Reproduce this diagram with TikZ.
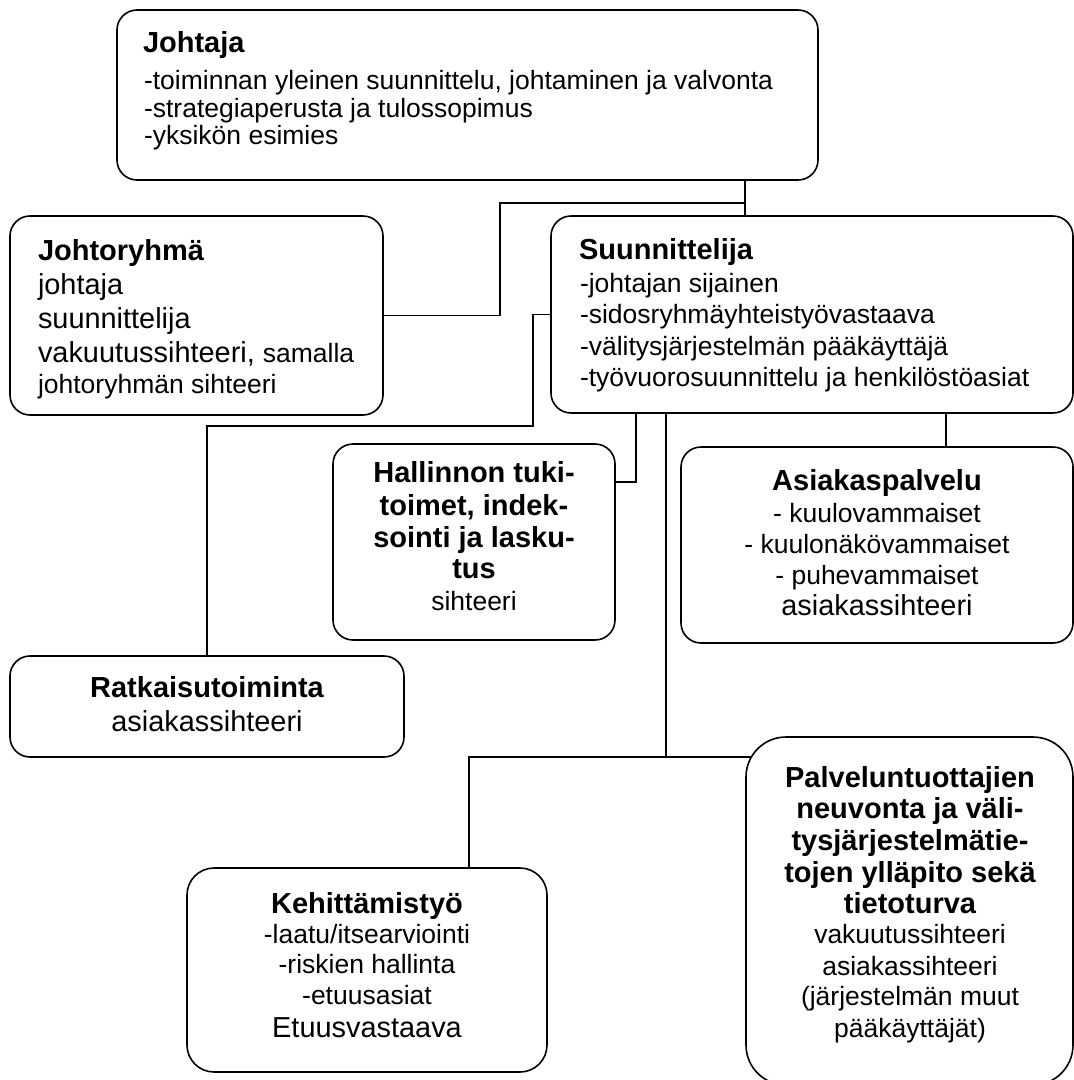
\documentclass[tikz,border=0pt]{standalone}
\usepackage{fontspec}
\setmainfont{Liberation Sans}
\begin{document}
\begin{tikzpicture}[x=1pt,y=-1pt,
  box/.style={draw, line width=1.6pt, rounded corners=20pt, inner sep=0pt, outer sep=0pt},
  conn/.style={line width=1.5pt},
  ttl/.style={font=\fontsize{29}{29}\selectfont\bfseries, inner sep=0pt, outer sep=0pt},
  sm/.style={font=\fontsize{26.5}{26.5}\selectfont, inner sep=0pt, outer sep=0pt},
  lg/.style={font=\fontsize{28.9}{28.9}\selectfont, inner sep=0pt, outer sep=0pt}]
\useasboundingbox (0,0) rectangle (1074,1080);
\clip (0,0) rectangle (1074,1080);

% boxes
\node[box, minimum width=701pt, minimum height=170pt] (johtaja) at (467.5,95) {};
\node[box, minimum width=373pt, minimum height=199pt] (johtor) at (196.5,315.5) {};
\node[box, minimum width=522pt, minimum height=197pt] (suun) at (812,314.5) {};
\node[box, minimum width=282pt, minimum height=196pt] (hall) at (474,542) {};
\node[box, minimum width=392pt, minimum height=196pt] (asiak) at (877,545) {};
\node[box, minimum width=394pt, minimum height=101pt] (ratk) at (207,706.5) {};
\node[box, rounded corners=27pt, minimum width=360pt, minimum height=204pt] (kehit) at (367,970) {};
\node[box, rounded corners=40pt, minimum width=327pt, minimum height=348pt] (palv) at (909.5,911) {};

% connector junctions
\coordinate (c1) at (745,203);
\coordinate (c2) at (500,203);
\coordinate (c3) at (533,426);
\coordinate (c4) at (636,482);
\coordinate (c5) at (666,757);
\coordinate (c6) at (469,757);
\coordinate (c7) at (752,757);
\coordinate (c8) at (946,430);

\draw[conn] (johtaja.south -| c1) -- (suun.north -| c1);
\draw[conn] (johtor.east) -| (c2) -- (c1);
\draw[conn] (suun.west) -| (c3) -| (ratk.north);
\draw[conn] (c4 -| hall.east) -- (c4) -- (c4 |- suun.south);
\draw[conn] (c5 |- suun.south) -- (c5);
\draw[conn] (c6 |- kehit.north) -- (c6) -- (c7);
\draw[conn] (c8 |- suun.south) -- (c8 |- asiak.north);

% Johtaja
\node[ttl, anchor=base west] (j0) at (143,52) {Johtaja};
\node[sm, anchor=base west] (j1) at (144,89) {-toiminnan yleinen suunnittelu, johtaminen ja valvonta};
\node[sm, anchor=base west] (j2) at (144,117) {-strategiaperusta ja tulossopimus};
\node[sm, anchor=base west] (j3) at (144,144) {-yksikön esimies};

% Johtoryhma
\node[ttl, anchor=base west] (r0) at (38,260) {Johtoryhmä};
\node[lg, anchor=base west] (r1) at (38,294) {johtaja};
\node[lg, anchor=base west] (r2) at (38,328) {suunnittelija};
\node[lg, anchor=base west] (r3) at (38,362) {vakuutussihteeri, {\fontsize{26.5}{26.5}\selectfont samalla}};
\node[sm, anchor=base west] (r4) at (38,393) {johtoryhmän sihteeri};

% Suunnittelija
\node[ttl, anchor=base west] (s0) at (579,259) {Suunnittelija};
\node[sm, anchor=base west] (s1) at (580,292) {-johtajan sijainen};
\node[sm, anchor=base west] (s2) at (580,323) {-sidosryhmäyhteistyövastaava};
\node[sm, anchor=base west] (s3) at (580,355) {-välitysjärjestelmän pääkäyttäjä};
\node[sm, anchor=base west] (s4) at (580,386) {-työvuorosuunnittelu ja henkilöstöasiat};

% Hallinnon
\node[ttl, anchor=base] (h0) at (474,482) {Hallinnon tuki-};
\node[ttl, anchor=base] (h1) at (474,515) {toimet, indek-};
\node[ttl, anchor=base] (h2) at (474,547) {sointi ja lasku-};
\node[ttl, anchor=base] (h3) at (474,578) {tus};
\node[sm, anchor=base] (h4) at (474,610) {sihteeri};

% Asiakaspalvelu
\node[ttl, anchor=base] (a0) at (877,490) {Asiakaspalvelu};
\node[sm, anchor=base] (a1) at (877,522) {- kuulovammaiset};
\node[sm, anchor=base] (a2) at (877,553) {- kuulonäkövammaiset};
\node[sm, anchor=base] (a3) at (877,584) {- puhevammaiset};
\node[lg, anchor=base] (a4) at (877,615) {asiakassihteeri};

% Ratkaisutoiminta
\node[ttl, anchor=base] (k0) at (207,697) {Ratkaisutoiminta};
\node[lg, anchor=base] (k1) at (207,731) {asiakassihteeri};

% Kehittamistyo
\node[ttl, anchor=base] (e0) at (367,913) {Kehittämistyö};
\node[sm, anchor=base] (e1) at (367,943) {-laatu/itsearviointi};
\node[sm, anchor=base] (e2) at (367,973) {-riskien hallinta};
\node[sm, anchor=base] (e3) at (367,1004) {-etuusasiat};
\node[lg, anchor=base] (e4) at (367,1037) {Etuusvastaava};

% Palveluntuottajien
\node[ttl, anchor=base] (p0) at (910,787) {Palveluntuottajien};
\node[ttl, anchor=base] (p1) at (910,818) {neuvonta ja väli-};
\node[ttl, anchor=base] (p2) at (910,850) {tysjärjestelmätie-};
\node[ttl, anchor=base] (p3) at (910,882) {tojen ylläpito sekä};
\node[ttl, anchor=base] (p4) at (910,913) {tietoturva};
\node[sm, anchor=base] (p5) at (910,943) {vakuutussihteeri};
\node[sm, anchor=base] (p6) at (910,975) {asiakassihteeri};
\node[sm, anchor=base] (p7) at (910,1005) {(järjestelmän muut};
\node[sm, anchor=base] (p8) at (910,1037) {pääkäyttäjät)};
\end{tikzpicture}
\end{document}
